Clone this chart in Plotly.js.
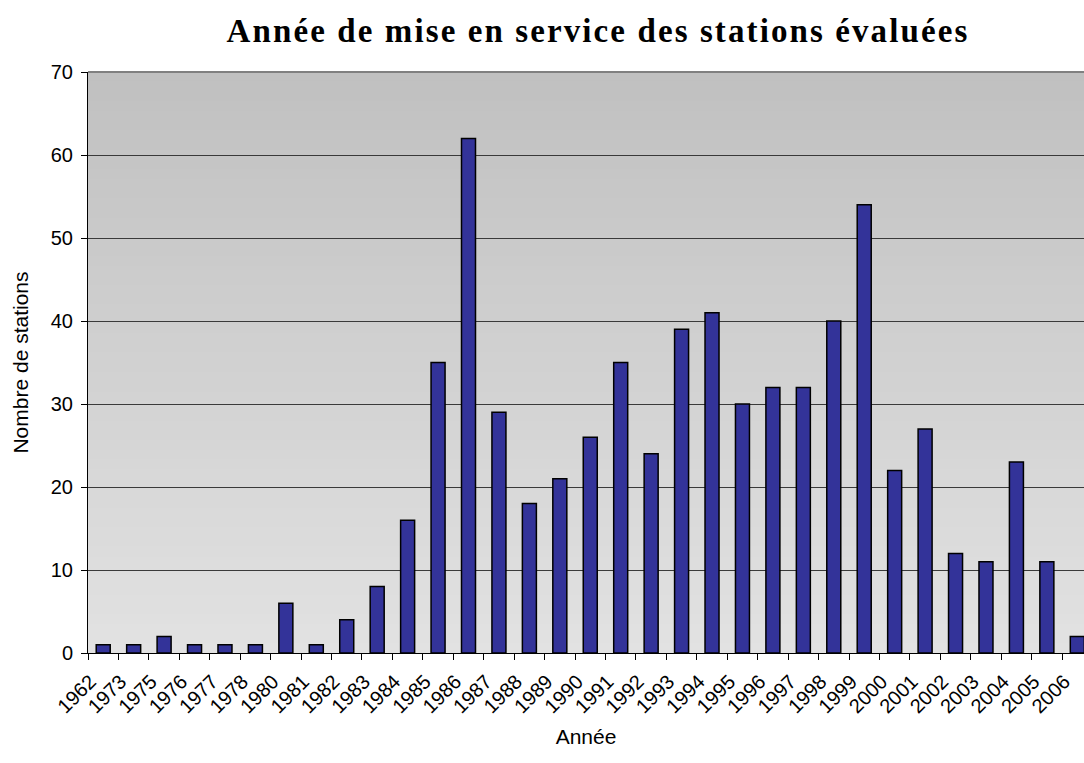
<!DOCTYPE html>
<html>
<head>
<meta charset="utf-8">
<script src="https://cdn.plot.ly/plotly-3.0.1.min.js"></script>
<style>html,body{margin:0;padding:0;background:#fff;}#chart{width:1084px;height:763px;}
.gtitle{letter-spacing:2.1px;}</style>
</head>
<body>
<div id="chart"></div>
<script>
const years = ["1962","1973","1975","1976","1977","1978","1980","1981","1982","1983","1984","1985","1986","1987","1988","1989","1990","1991","1992","1993","1994","1995","1996","1997","1998","1999","2000","2001","2002","2003","2004","2005","2006"];
const stations = [1,1,2,1,1,1,6,1,4,8,16,35,62,29,18,21,26,35,24,39,41,30,32,32,40,54,22,27,12,11,23,11,2];
const yTicks = [0,10,20,30,40,50,60,70];

const titleText = "Année de mise en service des stations évaluées";
const xTitle = "Année";
const yTitle = "Nombre de stations";

// background gradient (style only): overlapping rects, each from its start to the top
const shapes = [];
const nBands = 60;
const topC = 192, botC = 226;
for (let i = 0; i < nBands; i++) {
  const t = (i + 0.5) / nBands;
  const c = Math.round(botC + (topC - botC) * t);
  shapes.push({type:'rect', xref:'paper', yref:'paper', x0:0, x1:1, y0:i/nBands, y1:1,
    fillcolor:`rgb(${c},${c},${c})`, line:{width:0}, layer:'below'});
}
shapes.push({type:'line', xref:'paper', yref:'paper', x0:0, x1:1, y0:1, y1:1, line:{color:'#808080', width:2}, layer:'above'});

const trace = {
  type:'bar', x: years, y: stations,
  marker:{color:'#333399', line:{color:'#000000', width:1.5}},
  width: 0.46,
  hoverinfo:'x+y'
};

const layout = {
  width:1084, height:763,
  margin:{l:88, r:0, t:72, b:110},
  paper_bgcolor:'#ffffff', plot_bgcolor:'rgba(0,0,0,0)',
  showlegend:false,
  title:{text:titleText, font:{family:'Liberation Serif', size:33, color:'#000', weight:'bold'},
    x:598/1084, xanchor:'center', xref:'container', y:1-30/763, yanchor:'middle', yref:'container'},
  xaxis:{type:'category', range:[-0.5, 32.22], tickangle:-45, tickson:'boundaries',
    ticks:'outside', ticklen:6, tickcolor:'#000', showline:true, linecolor:'#000', linewidth:1,
    showgrid:false, tickfont:{family:'Liberation Sans', size:20, color:'#000'},
    ticklabelshift:-13, ticklabelstandoff:8,
    title:{text:xTitle, font:{family:'Liberation Sans', size:21, color:'#000'}, standoff:12}, fixedrange:true},
  yaxis:{range:[0,70], tickvals:yTicks, ticks:'outside', ticklen:6, tickcolor:'#000',
    showline:true, linecolor:'#000', linewidth:1, showgrid:true, gridcolor:'#3a3a3a', gridwidth:1,
    zeroline:false, tickfont:{family:'Liberation Sans', size:20, color:'#000'}, ticklabelstandoff:4,
    title:{text:yTitle, font:{family:'Liberation Sans', size:21, color:'#000'}, standoff:16}, fixedrange:true},
  shapes: shapes,
  bargap:0.54
};

Plotly.newPlot('chart', [trace], layout, {displayModeBar:false, staticPlot:true});
</script>
</body>
</html>
